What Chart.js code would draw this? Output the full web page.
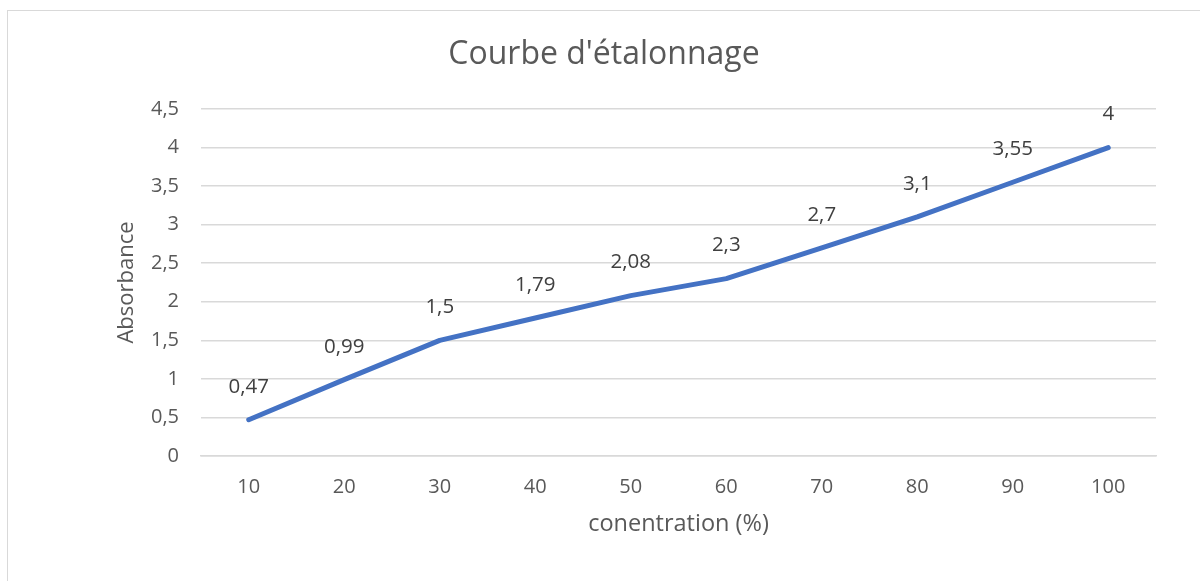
<!DOCTYPE html>
<html>
<head>
<meta charset="utf-8">
<script src="https://cdn.jsdelivr.net/npm/chart.js@4.4.0/dist/chart.umd.min.js"></script>
<style>
    html, body { margin: 0; padding: 0; background: #fff; overflow: hidden; }
    #frame { position: absolute; left: 7px; top: 10px; width: 1400px; height: 800px; border: 1.5px solid #d9d9d9; box-sizing: border-box; }
    #wrap { position: absolute; left: 0; top: 0; width: 1200px; height: 581px; }
</style>
</head>
<body>
<div id="frame"></div>
<div id="wrap"><canvas id="myChart"></canvas></div>
<script>
const categories = ["10", "20", "30", "40", "50", "60", "70", "80", "90", "100"];
const absorbance = [0.47, 0.99, 1.5, 1.79, 2.08, 2.3, 2.7, 3.1, 3.55, 4];
const yTicks = [0, 0.5, 1, 1.5, 2, 2.5, 3, 3.5, 4, 4.5];

const FONT = "'Open Sans', 'Noto Sans', sans-serif";
const fr = (v) => String(v).replace(".", ",");

// data labels drawn above each point (Excel style)
const pointLabels = {
    id: "pointLabels",
    afterDatasetsDraw(chart) {
        const ctx = chart.ctx;
        const meta = chart.getDatasetMeta(0);
        ctx.save();
        ctx.fillStyle = "#404040";
        ctx.font = "20.5px " + FONT;
        ctx.textAlign = "center";
        ctx.textBaseline = "middle";
        meta.data.forEach((pt, i) => {
            ctx.fillText(fr(absorbance[i]), pt.x, pt.y - 33);
        });
        ctx.restore();
    }
};

const ctx = document.getElementById("myChart").getContext("2d");

const myChart = new Chart(ctx, {
    type: "line",
    data: {
        labels: categories,
        datasets: [
            {
                label: "Absorbance",
                data: absorbance,
                borderColor: "#4472C4",
                borderWidth: 5,
                pointRadius: 0,
                tension: 0,
                borderCapStyle: "round",
                borderJoinStyle: "round",
            }
        ]
    },
    options: {
        responsive: true,
        maintainAspectRatio: false,
        animation: false,
        layout: { padding: { left: 52, right: 44, top: 0, bottom: 0 } },
        scales: {
            x: {
                offset: true,
                title: { display: true, text: "conentration (%)", color: "#595959", font: { family: FONT, size: 23.5 }, padding: { top: 0, bottom: 43 } },
                ticks: { color: "#595959", font: { family: FONT, size: 20 }, padding: 19, maxRotation: 0 },
                grid: { display: false, drawTicks: false },
                border: { color: "#d9d9d9", width: 1.5 },
                afterFit: (scale) => { scale.height = 125; }
            },
            y: {
                min: 0,
                max: 4.5,
                afterBuildTicks: (scale) => { scale.ticks = yTicks.map(v => ({ value: v })); },
                title: { display: true, text: "Absorbance", color: "#595959", font: { family: FONT, size: 22 }, padding: { top: 62, bottom: 0 } },
                ticks: { color: "#595959", font: { family: FONT, size: 20 }, padding: 22, callback: (v) => fr(v) },
                grid: { color: "#d9d9d9", lineWidth: 1.5, drawTicks: false },
                border: { display: false },
                afterFit: (scale) => { scale.width = 149; }
            }
        },
        plugins: {
            legend: { display: false },
            tooltip: { enabled: false },
            title: {
                display: true,
                text: "Courbe d'étalonnage",
                color: "#595959",
                font: { family: FONT, size: 32, weight: "normal" },
                padding: { top: 36, bottom: 34.6 }
            }
        }
    },
    plugins: [pointLabels],
});
</script>
</body>
</html>
